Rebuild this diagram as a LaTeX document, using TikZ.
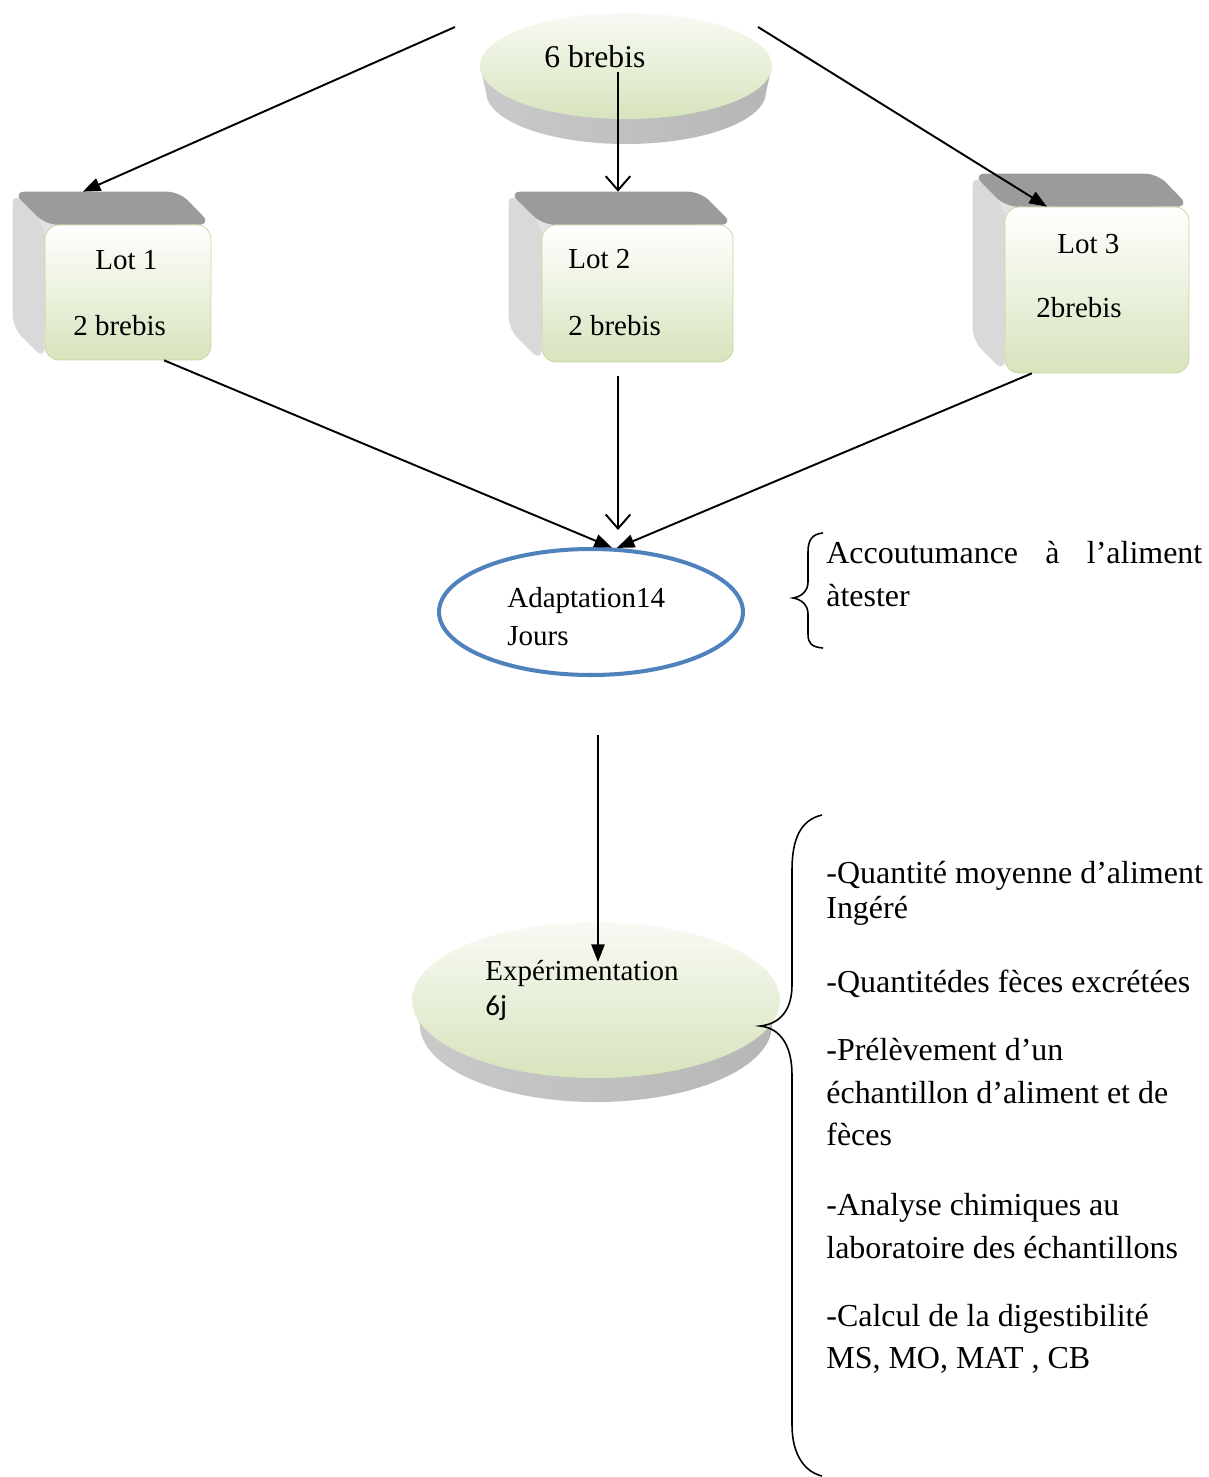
\documentclass[tikz,border=0pt]{standalone}
\usepackage{fontspec}
\setmainfont{Liberation Serif}
\setsansfont{Carlito}
\usepackage{xcolor}
\usetikzlibrary{shapes.geometric}
\usetikzlibrary{arrows.meta}

\definecolor{facegreen}{HTML}{D7E4BD}
\definecolor{facetop}{HTML}{F8FAF4}
\definecolor{faceline}{HTML}{C3D69B}
\definecolor{bevdark}{HTML}{9B9B9B}
\definecolor{bevlight}{HTML}{D9D9D9}
\definecolor{sidel}{HTML}{CACACA}
\definecolor{sidem}{HTML}{9A9A9A}
\definecolor{sider}{HTML}{B6B6B6}
\definecolor{adaptblue}{HTML}{4F81BD}

\begin{document}
\begin{tikzpicture}[x=0.02cm, y=-0.02cm,
  txt/.style={anchor=base west, inner sep=0pt, font=\fontsize{18.2}{22}\selectfont},
  txts/.style={anchor=base west, inner sep=0pt, font=\fontsize{16.5}{20}\selectfont},
  front/.style={rectangle, rounded corners=8pt, top color=white, bottom color=facegreen, draw=faceline, line width=0.4pt},
  back/.style={rectangle, rounded corners=11pt, left color=bevlight!70, right color=bevlight, draw=none},
  side/.style={left color=sidel, middle color=sidem, right color=sider},
  face/.style={top color=facetop, bottom color=facegreen},
  arr/.style={-{Triangle[length=10pt,width=7.5pt]}, line width=1.1pt},
  varr/.style={-{Straight Barb[length=8pt,width=14pt]}, line width=1.1pt},
  brace/.style={line width=0.9pt},
]
\useasboundingbox (0,0) rectangle (1208,1477);

% Top disc
\shade[side] (480,66) -- (486,92) arc[start angle=180, end angle=0, x radius=140, y radius=52] -- (772,66) -- cycle;
\shade[face] (626,66) ellipse [x radius=146, y radius=53];
\node[txt, font=\fontsize{18}{22}\selectfont] (herd) at (544,68) {6 brebis};

% Lot boxes - back and bevels
\node[back, minimum width=3.32cm, minimum height=2.7cm] (lot1b) at (96,259.5) {};
\fill[bevlight, rounded corners=7pt] (lot1b.north west) -- ++(32,33) -- ++(0,135) -- (lot1b.south west) -- cycle;
\fill[bevdark, rounded corners=7pt] (lot1b.north west) -- (lot1b.north east) -- ++(32,33) -- ++(-166,0) -- cycle;
\node[front, minimum width=3.32cm, minimum height=2.7cm] (lot1) at (128,292.5) {};

\node[back, minimum width=3.82cm, minimum height=2.74cm] (lot2b) at (604.5,260.5) {};
\fill[bevlight, rounded corners=7pt] (lot2b.north west) -- ++(33,33) -- ++(0,137) -- (lot2b.south west) -- cycle;
\fill[bevdark, rounded corners=7pt] (lot2b.north west) -- (lot2b.north east) -- ++(33,33) -- ++(-191,0) -- cycle;
\node[front, minimum width=3.82cm, minimum height=2.74cm] (lot2) at (637.5,293.5) {};

\node[back, minimum width=3.68cm, minimum height=3.32cm] (lot3b) at (1065,257) {};
\fill[bevlight, rounded corners=7pt] (lot3b.north west) -- ++(32,33) -- ++(0,166) -- (lot3b.south west) -- cycle;
\fill[bevdark, rounded corners=7pt] (lot3b.north west) -- (lot3b.north east) -- ++(32,33) -- ++(-184,0) -- cycle;
\node[front, minimum width=3.68cm, minimum height=3.32cm] (lot3) at (1097,290) {};

% Lot labels
\node[txts] (lot1x) at (95,269) {Lot 1};
\node[txts] (lot1y) at (73,335) {2 brebis};
\node[txts] (lot2x) at (568,268) {Lot 2};
\node[txts] (lot2y) at (568,335) {2 brebis};
\node[txts] (lot3x) at (1057,253) {Lot 3};
\node[txts] (lot3y) at (1036,317) {2brebis};

% Adaptation
\node[ellipse, draw=adaptblue, line width=2.3pt, minimum width=6.08cm, minimum height=2.52cm] (adapt) at (591,612) {};
\node[txts] (adapt1) at (507,607) {Adaptation14};
\node[txts] (adapt2) at (507,645) {Jours};

% Experimentation disc
\shade[side] (412,1000) -- (420,1025) arc[start angle=180, end angle=0, x radius=176, y radius=77] -- (780,1000) -- cycle;
\shade[face] (596,1000) ellipse [x radius=184, y radius=78];
\node[txts] (exp) at (485,980) {Expérimentation};
\node[txts, font=\sffamily\fontsize{16.5}{20}\selectfont] (exp2) at (485,1015) {6j};

% Free ends
\coordinate (sL) at (455,27);
\coordinate (sR) at (758,27);
\coordinate (sM) at (618,72);
\coordinate (mA) at (618,376);
\coordinate (mB) at (618,530);
\coordinate (eA) at (598,735);
\coordinate (eB) at (598,962);

% Arrows
\draw[arr] (sL) -- (lot1b.101);
\draw[arr] (sR) -- (lot3.121);
\draw[varr] (sM) -- (sM |- lot2b.north);
\draw[arr] (lot1.-62) -- (adapt.72);
\draw[arr] (lot3.-128) -- (adapt.68);
\draw[varr] (mA) -- (mB);
\draw[arr] (eA) -- (eB);

% Braces
\draw[brace] (823,533) .. controls (812,534) and (808,540) .. (808,552) -- (808,582)
  .. controls (808,592) and (800,597) .. (793,598) .. controls (800,599) and (808,604) .. (808,614)
  -- (808,634) .. controls (808,644) and (812,647) .. (823,648);
\draw[brace] (822,815) .. controls (800,820) and (792,840) .. (792,870) -- (792,985)
  .. controls (792,1010) and (780,1024) .. (760,1026) .. controls (780,1028) and (792,1045) .. (792,1075)
  -- (792,1425) .. controls (792,1455) and (805,1472) .. (822,1476);

% Notes
\node[txt] (acc1) at (826,563) {\makebox[7.52cm][s]{Accoutumance\hfill à\hfill l’aliment}};
\node[txt] (acc2) at (826,606) {àtester};
\node[txt] (n1a) at (826,883) {-Quantité moyenne d’aliment};
\node[txt] (n1b) at (826,918) {Ingéré};
\node[txt] (n2) at (826,992) {-Quantitédes fèces excrétées};
\node[txt] (n3a) at (826,1060) {-Prélèvement d’un};
\node[txt] (n3b) at (826,1103) {échantillon d’aliment et de};
\node[txt] (n3c) at (826,1145) {fèces};
\node[txt] (n4a) at (826,1215) {-Analyse chimiques au};
\node[txt] (n4b) at (826,1258) {laboratoire des échantillons};
\node[txt] (n5a) at (826,1326) {-Calcul de la digestibilité};
\node[txt] (n5b) at (826,1368) {MS, MO, MAT , CB};

\end{tikzpicture}
\end{document}
